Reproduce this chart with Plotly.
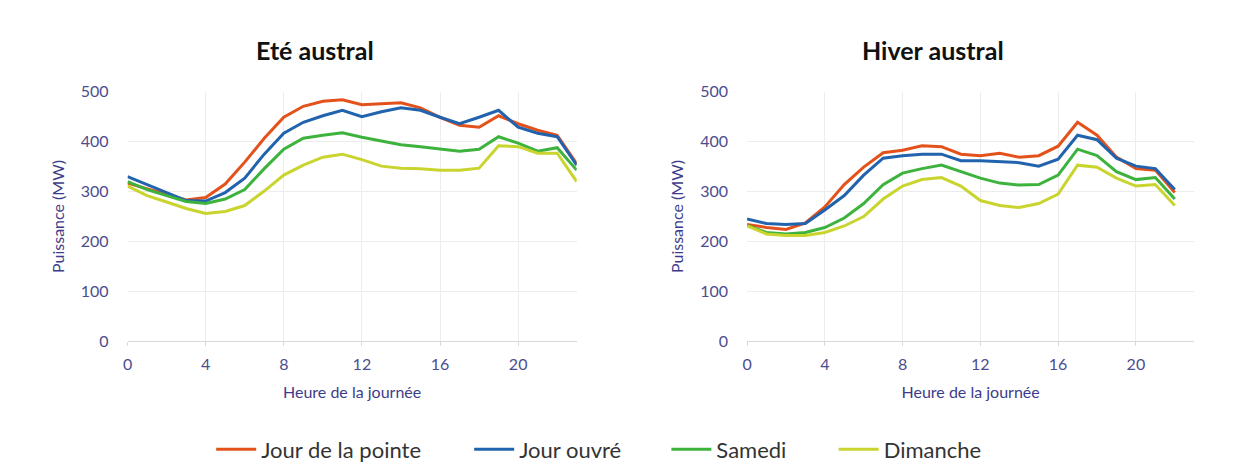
import plotly.graph_objects as go

hours_ete = list(range(24))
hours_hiver = list(range(23))

ete_pointe = [317, 306, 295, 283, 288, 315, 359, 407, 449, 471, 481, 484, 474, 476, 478, 468, 449, 433, 429, 452, 436, 423, 413, 356]
ete_ouvre = [330, 314, 298, 282, 281, 298, 327, 375, 417, 439, 452, 463, 450, 460, 468, 463, 449, 436, 449, 463, 429, 417, 410, 353]
ete_samedi = [320, 304, 292, 280, 276, 285, 304, 346, 385, 407, 413, 418, 409, 401, 394, 390, 385, 381, 385, 410, 397, 381, 388, 343]
ete_dimanche = [311, 292, 279, 266, 256, 260, 272, 301, 333, 353, 369, 375, 364, 351, 347, 346, 343, 343, 347, 392, 390, 377, 377, 320]

hiver_pointe = [234, 228, 224, 237, 269, 314, 349, 378, 383, 392, 390, 375, 372, 377, 369, 372, 391, 439, 413, 369, 346, 343, 298]
hiver_ouvre = [245, 236, 234, 236, 263, 292, 333, 367, 372, 375, 375, 362, 362, 360, 358, 351, 365, 413, 404, 367, 351, 346, 304]
hiver_samedi = [232, 218, 215, 218, 228, 247, 276, 314, 337, 346, 353, 340, 327, 317, 313, 314, 333, 385, 372, 340, 324, 328, 285]
hiver_dimanche = [231, 215, 212, 212, 218, 231, 250, 285, 311, 324, 328, 311, 282, 272, 268, 276, 295, 353, 349, 327, 311, 314, 272]

series_names = ["Jour de la pointe", "Jour ouvré", "Samedi", "Dimanche"]
colors = ["#E4521B", "#2263AE", "#3DB33D", "#C9D42E"]
x_ticks = [0, 4, 8, 12, 16, 20]
y_ticks = [0, 100, 200, 300, 400, 500]
titles = ["Eté austral", "Hiver austral"]

fig = go.Figure()

ete = [ete_pointe, ete_ouvre, ete_samedi, ete_dimanche]
hiver = [hiver_pointe, hiver_ouvre, hiver_samedi, hiver_dimanche]
legend_ids = ["legend", "legend2", "legend3", "legend4"]
legend_x = [199, 458, 656, 824]

for i, (name, col) in enumerate(zip(series_names, colors)):
    fig.add_trace(go.Scatter(x=hours_ete, y=ete[i], mode="lines", name=name,
                             line=dict(color=col, width=3), xaxis="x", yaxis="y",
                             legend=legend_ids[i]))
for i, (name, col) in enumerate(zip(series_names, colors)):
    fig.add_trace(go.Scatter(x=hours_hiver, y=hiver[i], mode="lines", name=name,
                             line=dict(color=col, width=3), xaxis="x2", yaxis="y2",
                             showlegend=False))

tick_color = "#4B4D8F"
title_color = "#3D3C8A"
font_family = "Lato, Open Sans, sans-serif"

xcommon = dict(range=[0, 23], tickvals=x_ticks, showgrid=True, gridcolor="#ECECEC",
               gridwidth=1, showline=True, linecolor="#D9D9D9", linewidth=1,
               ticks="outside", tickcolor="#D9D9D9", ticklen=4,
               tickfont=dict(size=16, color=tick_color, family=font_family),
               title=dict(text="Heure de la journée", font=dict(size=16, color=title_color, family=font_family), standoff=14),
               zeroline=False, fixedrange=True, ticklabelstandoff=5)
ycommon = dict(range=[0, 500], tickvals=y_ticks, showgrid=True, gridcolor="#ECECEC",
               gridwidth=1, showline=False, zeroline=False,
               tickfont=dict(size=16, color=tick_color, family=font_family),
               title=dict(text="Puissance (MW)", font=dict(size=16, color=title_color, family=font_family), standoff=12),
               ticklabelstandoff=18)

y_dom = [(463 - 337) / 463, (463 - 77) / 463]

legends = {}
for i, lid in enumerate(legend_ids):
    legends[lid] = dict(orientation="h", x=legend_x[i] / 1242, xanchor="left",
                        y=(463 - 450) / 463, yanchor="middle",
                        font=dict(size=22, color="#333333", family=font_family),
                        bgcolor="rgba(0,0,0,0)", itemwidth=40)

fig.update_layout(
    width=1242, height=463,
    margin=dict(l=0, r=0, t=0, b=0),
    paper_bgcolor="white", plot_bgcolor="white",
    xaxis=dict(domain=[115 / 1242, 566 / 1242], anchor="y", **xcommon),
    yaxis=dict(domain=y_dom, anchor="x", **ycommon),
    xaxis2=dict(domain=[737 / 1242, 1186 / 1242], anchor="y2", **xcommon),
    yaxis2=dict(domain=y_dom, anchor="x2", **ycommon),
    showlegend=True,
    annotations=[
        dict(text="<b>" + titles[0] + "</b>", x=303 / 1242, y=(463 - 33) / 463, xref="paper", yref="paper",
             showarrow=False, font=dict(size=25, color="#111111", family=font_family), xanchor="center", yanchor="middle"),
        dict(text="<b>" + titles[1] + "</b>", x=924 / 1242, y=(463 - 33) / 463, xref="paper", yref="paper",
             showarrow=False, font=dict(size=25, color="#111111", family=font_family), xanchor="center", yanchor="middle"),
    ],
    **legends,
)

fig.write_html("out.html")
